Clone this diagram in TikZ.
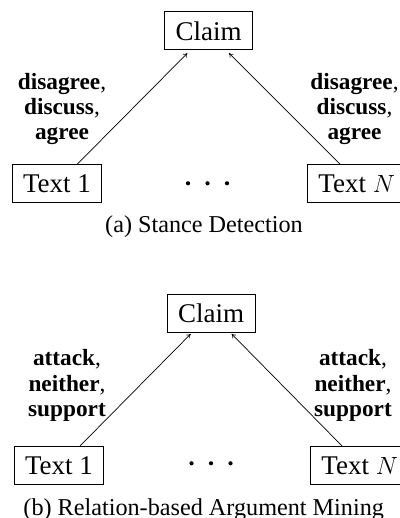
\documentclass[tikz,border=0pt]{standalone}
\usepackage{fontspec}
\setmainfont{Liberation Serif}[BoldFont={Liberation Serif Bold},ItalicFont={Liberation Serif Italic}]
\usetikzlibrary{arrows.meta}
\begin{document}
\begin{tikzpicture}[x=1pt,y=-1pt,
  box/.style={draw,line width=0.9pt,inner xsep=11pt,inner ysep=0pt,minimum height=38pt,font=\fontsize{27}{32}\selectfont},
  lbl/.style={align=center,anchor=base,font=\fontsize{23.3}{25.3}\selectfont},
  captxt/.style={anchor=base,font=\fontsize{24.2}{28}\selectfont},
  conn/.style={line width=0.7pt,-{To[length=4pt,width=5pt]}}]
\useasboundingbox (0,0) rectangle (399,518);
% ---- panel (a)
\node[box] (claimA) at (208.5,30.8) {Claim};
\node[box] (t1A) at (57,183.6) {Text 1};
\node[box,anchor=west] (tnA) at (307,183.6) {Text $N$};
\node (dotsA) at (207.5,183.3) {};
\foreach \dx in {-19.5,0,19.5} \fill ([xshift=\dx pt]dotsA.center) circle (2.1pt);
\draw[conn] ([xshift=20.3pt]t1A.north) -- ([xshift=-21.2pt,yshift=-3pt]claimA.south);
\draw[conn] ([xshift=33pt]tnA.north west) -- ([xshift=20.5pt,yshift=-3pt]claimA.south);
\node[lbl] (lA1) at (62,139.8) {\textbf{disagree},\\\textbf{discuss},\\\textbf{agree}};
\node[lbl] (lA2) at (354.5,139.8) {\textbf{disagree},\\\textbf{discuss},\\\textbf{agree}};
\node[captxt] (capA) at (204,232.5) {(a) Stance Detection};
% ---- panel (b)
\node[box] (claimB) at (211,313) {Claim};
\node[box] (t1B) at (59,465.4) {Text 1};
\node[box,anchor=west] (tnB) at (310,465.4) {Text $N$};
\node (dotsB) at (211,463.3) {};
\foreach \dx in {-19.5,0,19.5} \fill ([xshift=\dx pt]dotsB.center) circle (2.1pt);
\draw[conn] ([xshift=21pt]t1B.north) -- ([xshift=-20.3pt,yshift=-1.5pt]claimB.south);
\draw[conn] ([xshift=32pt]tnB.north west) -- ([xshift=20.7pt,yshift=-1.5pt]claimB.south);
\node[lbl] (lB1) at (67,416.5) {\textbf{attack},\\\textbf{neither},\\\textbf{support}};
\node[lbl] (lB2) at (353,416.5) {\textbf{attack},\\\textbf{neither},\\\textbf{support}};
\node[captxt] (capB) at (203.7,515) {(b) Relation-based Argument Mining};
\end{tikzpicture}
\end{document}
